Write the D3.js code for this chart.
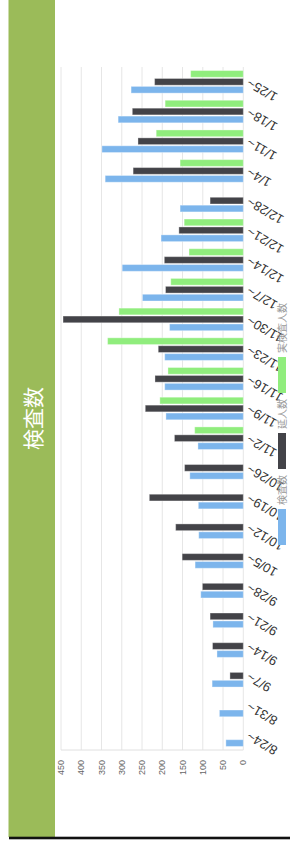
<!DOCTYPE html>
<html>
<head>
<meta charset="utf-8">
<style>
  body { margin: 0; background: #fff; }
  svg { display: block; }
</style>
<script src="https://cdn.jsdelivr.net/npm/d3@7"></script>
</head>
<body>
<div id="d3-container"></div>
<script>
const categories = ['8/24~', '8/31~', '9/7~', '9/14~', '9/21~', '9/28~', '10/5~', '10/12~',
  '10/19~', '10/26~', '11/2~', '11/9~', '11/16~', '11/23~', '11/30~', '12/7~', '12/14~',
  '12/21~', '12/28~', '1/4~', '1/11~', '1/18~', '1/25~'];

const kensa = [43, 59, 77, 65, 75, 105, 119, 110, 111, 132, 112, 191, 194, 194, 182, 249, 299, 203, 156, 341, 349, 309, 277];
const nobe = [null, null, 33, 76, 82, 101, 151, 167, 232, 145, 170, 242, 218, 210, 445, 192, 195, 159, 82, 272, 260, 274, 219];
const jitsu = [null, null, null, null, null, null, null, null, null, null, 120, 206, 186, 335, 307, 179, 134, 146, null, 156, 215, 193, 130];

const seriesNames = ['検査数', '延人数', '実検査人数'];
const seriesColors = ['#7cb5ec', '#434348', '#90ed7d'];
const yTicks = [0, 50, 100, 150, 200, 250, 300, 350, 400, 450];

const width = 290;
const height = 844;
// the whole card lies on its side, so draw it in a W x H frame and turn it
const W = height, H = width;
const plot = { left: 94, right: W - 67, top: 61, bottom: 243.3 };

const svg = d3.select('#d3-container')
  .append('svg')
  .attr('width', width)
  .attr('height', height);

const g = svg.append('g')
  .attr('transform', `translate(0,${height}) rotate(-90)`);

// header
g.append('rect')
  .attr('x', 7).attr('y', 8.5)
  .attr('width', W - 7).attr('height', 46.5)
  .attr('fill', '#9bbb59');

g.append('text')
  .attr('x', (7 + W) / 2).attr('y', 32)
  .attr('text-anchor', 'middle')
  .attr('dominant-baseline', 'central')
  .attr('font-family', '"Noto Sans CJK JP", sans-serif')
  .attr('font-size', '21px')
  .attr('fill', '#fff')
  .text('検査数');

g.append('rect')
  .attr('x', 4.7).attr('y', 9)
  .attr('width', 2.6).attr('height', H - 9)
  .attr('fill', '#111');

const x = d3.scaleBand()
  .domain(categories)
  .range([plot.left, plot.right])
  .paddingInner(0.2)
  .paddingOuter(0.1);

const x1 = d3.scaleBand()
  .domain(d3.range(3))
  .range([0, x.bandwidth()])
  .paddingInner(0.15)
  .paddingOuter(0.075);

const y = d3.scaleLinear()
  .domain([0, 450])
  .range([plot.bottom, plot.top]);

// grid
g.append('g')
  .selectAll('line')
  .data(yTicks)
  .join('line')
    .attr('x1', plot.left).attr('x2', plot.right)
    .attr('y1', d => y(d)).attr('y2', d => y(d))
    .attr('stroke', '#e6e6e6');

g.append('line')
  .attr('x1', plot.left).attr('x2', plot.left)
  .attr('y1', plot.top).attr('y2', plot.bottom)
  .attr('stroke', '#e0e0e0');

g.append('g')
  .attr('font-family', 'Arial, "Liberation Sans", sans-serif')
  .attr('font-size', '9px')
  .attr('fill', '#666')
  .selectAll('text')
  .data(yTicks)
  .join('text')
    .attr('x', plot.left - 10)
    .attr('y', d => y(d))
    .attr('dy', '0.35em')
    .attr('text-anchor', 'end')
    .text(d => d);

// bars
const series = [kensa, nobe, jitsu];
series.forEach((values, s) => {
  g.append('g')
    .attr('fill', seriesColors[s])
    .selectAll('rect')
    .data(values.map((v, i) => ({ cat: categories[i], v })).filter(d => d.v != null))
    .join('rect')
      .attr('x', d => x(d.cat) + x1(s))
      .attr('y', d => y(d.v))
      .attr('width', x1.bandwidth())
      .attr('height', d => y(0) - y(d.v))
      .attr('stroke', 'rgba(255,255,255,0.35)')
      .attr('stroke-width', 1);
});

// category labels
g.append('g')
  .attr('font-family', 'Arial, "Liberation Sans", sans-serif')
  .attr('font-size', '13px')
  .attr('fill', '#333')
  .selectAll('text')
  .data(categories)
  .join('text')
    .attr('transform', d => `translate(${x(d) + x.bandwidth() / 2},${plot.bottom + 4.5}) rotate(-60)`)
    .attr('dy', '0.35em')
    .attr('text-anchor', 'end')
    .text(d => d);

// legend
const legend = g.append('g');
let lx = 299;
seriesNames.forEach((name, s) => {
  legend.append('rect')
    .attr('x', lx).attr('y', 278)
    .attr('width', 36).attr('height', 8)
    .attr('fill', seriesColors[s]);
  const t = legend.append('text')
    .attr('x', lx + 40).attr('y', 282)
    .attr('dy', '0.35em')
    .attr('font-family', '"Noto Sans CJK JP", sans-serif')
    .attr('font-size', '10px')
    .attr('fill', '#999')
    .text(name);
  lx += 40 + t.node().getComputedTextLength() + 6;
});
</script>
</body>
</html>
